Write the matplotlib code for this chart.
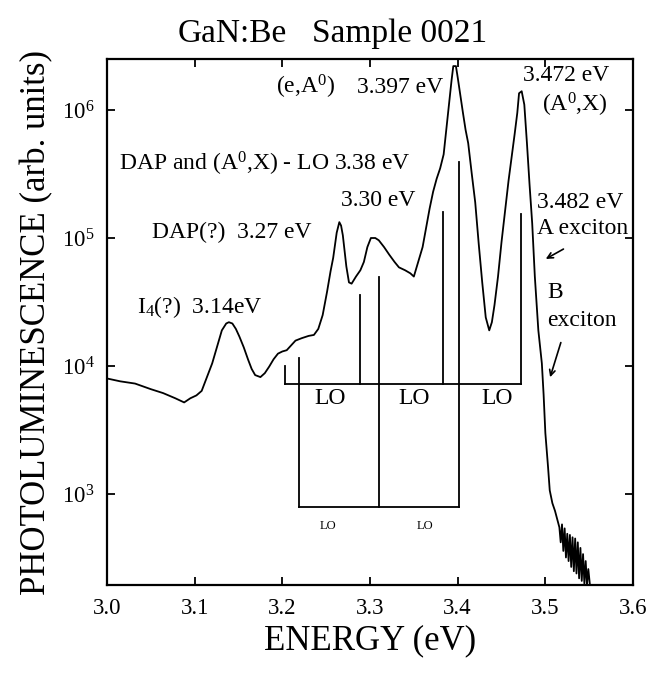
import matplotlib
matplotlib.use("Agg")
import matplotlib.pyplot as plt
from matplotlib.ticker import LogLocator, LogFormatterMathtext, NullLocator, MultipleLocator

plt.rc('font', family='Liberation Serif')
plt.rcParams['mathtext.fontset'] = 'custom'
plt.rcParams['mathtext.rm'] = 'Liberation Serif'
plt.rcParams['mathtext.it'] = 'Liberation Serif:italic'

# PL spectrum (eV, arb. units)
energy = [3.000, 3.015, 3.032, 3.050, 3.064, 3.078, 3.088, 3.095, 3.102, 3.108,
          3.114, 3.120, 3.126, 3.131, 3.136, 3.139, 3.143, 3.147, 3.151, 3.156,
          3.161, 3.165, 3.169, 3.175, 3.180, 3.185, 3.190, 3.195, 3.200, 3.205,
          3.210, 3.215, 3.222, 3.230, 3.236, 3.241, 3.246, 3.251, 3.255, 3.258,
          3.262, 3.265, 3.267, 3.269, 3.271, 3.273, 3.276, 3.279, 3.284, 3.289,
          3.293, 3.297, 3.301, 3.306, 3.310, 3.316, 3.322, 3.328, 3.333, 3.340,
          3.346, 3.350, 3.355, 3.360, 3.364, 3.368, 3.372, 3.376, 3.380, 3.384,
          3.387, 3.390, 3.393, 3.395, 3.398, 3.400, 3.403, 3.406, 3.409, 3.412,
          3.416, 3.420, 3.424, 3.428, 3.432, 3.436, 3.439, 3.442, 3.446, 3.450,
          3.454, 3.458, 3.462, 3.465, 3.468, 3.470, 3.473, 3.476, 3.479, 3.482,
          3.485, 3.488, 3.492, 3.496, 3.498, 3.500, 3.503, 3.505, 3.508, 3.511,
          3.5135, 3.516, 3.5175, 3.519, 3.5205, 3.522, 3.5235, 3.525, 3.5265, 3.528,
          3.5295, 3.531, 3.5325, 3.534, 3.5355, 3.537, 3.5385, 3.540, 3.5415, 3.543,
          3.5445, 3.546, 3.5475, 3.549, 3.551]
intensity = [8.0e3, 7.6e3, 7.3e3, 6.6e3, 6.15e3, 5.6e3, 5.2e3, 5.6e3, 5.9e3, 6.4e3,
             8.2e3, 1.05e4, 1.45e4, 1.9e4, 2.15e4, 2.2e4, 2.15e4, 1.95e4, 1.7e4, 1.4e4,
             1.12e4, 9.5e3, 8.5e3, 8.2e3, 8.8e3, 9.9e3, 1.13e4, 1.25e4, 1.3e4, 1.33e4,
             1.45e4, 1.58e4, 1.65e4, 1.72e4, 1.75e4, 1.95e4, 2.5e4, 3.8e4, 5.5e4, 7.0e4,
             1.1e5, 1.33e5, 1.25e5, 1.05e5, 8.0e4, 6.0e4, 4.5e4, 4.4e4, 5.0e4, 5.6e4,
             6.5e4, 8.5e4, 1.0e5, 1.0e5, 9.6e4, 8.5e4, 7.4e4, 6.5e4, 5.9e4, 5.6e4,
             5.3e4, 5.0e4, 6.5e4, 8.5e4, 1.2e5, 1.7e5, 2.3e5, 2.9e5, 3.5e5, 4.5e5,
             7.0e5, 1.1e6, 1.7e6, 2.2e6, 2.2e6, 1.8e6, 1.3e6, 9.5e5, 7.0e5, 5.5e5,
             3.2e5, 1.9e5, 9.0e4, 4.5e4, 2.4e4, 1.9e4, 2.2e4, 3.0e4, 5.0e4, 9.3e4,
             1.6e5, 2.8e5, 4.5e5, 6.5e5, 9.5e5, 1.35e6, 1.4e6, 1.1e6, 5.5e5, 2.6e5,
             1.3e5, 5.0e4, 1.9e4, 1.05e4, 6.0e3, 3.0e3, 1.65e3, 1.07e3, 8.5e2, 7.4e2,
             6.4e2, 5.5e2, 4.2e2, 5.8e2, 3.6e2, 5.4e2, 3.2e2, 4.9e2, 3.0e2, 4.8e2,
             2.7e2, 4.6e2, 2.5e2, 4.5e2, 2.4e2, 4.2e2, 2.2e2, 3.8e2, 2.1e2, 3.4e2,
             2.0e2, 3.0e2, 1.95e2, 2.6e2, 1.9e2]

# LO phonon replica brackets
lo_upper_x = [3.203, 3.289, 3.383, 3.472]
lo_upper_top = [1.0e4, 3.6e4, 1.6e5, 1.55e5]
lo_upper_base = 7.2e3
lo_lower_x = [3.219, 3.310, 3.402]
lo_lower_top = [1.15e4, 5.0e4, 3.9e5]
lo_lower_base = 800

fig = plt.figure(figsize=(6.52, 6.75), dpi=100)
ax = fig.add_axes([0.1641, 0.1333, 0.8068, 0.7793])

ax.plot(energy, intensity, color='black', lw=1.3)

for x, top in zip(lo_upper_x, lo_upper_top):
    ax.plot([x, x], [lo_upper_base, top], color='black', lw=1.3)
ax.plot([lo_upper_x[0], lo_upper_x[-1]], [lo_upper_base, lo_upper_base], color='black', lw=1.3)
for x, top in zip(lo_lower_x, lo_lower_top):
    ax.plot([x, x], [lo_lower_base, top], color='black', lw=1.3)
ax.plot([lo_lower_x[0], lo_lower_x[-1]], [lo_lower_base, lo_lower_base], color='black', lw=1.3)

# LO labels
for x in [3.254, 3.350, 3.445]:
    ax.text(x, 5.6e3, 'LO', fontsize=17, ha='center', va='center')
for x in [3.252, 3.363]:
    ax.text(x, 560, 'LO', fontsize=9, ha='center', va='center')

# peak annotations
fs = 17
ax.text(3.193, 1.5e6, r'(e,A$^0$)', fontsize=fs, ha='left', va='center')
ax.text(3.285, 1.5e6, '3.397 eV', fontsize=fs, ha='left', va='center')
ax.text(3.474, 1.85e6, '3.472 eV', fontsize=fs, ha='left', va='center')
ax.text(3.496, 1.1e6, r'(A$^0$,X)', fontsize=fs, ha='left', va='center')
ax.text(3.014, 3.8e5, r'DAP and (A$^0$,X) - LO 3.38 eV', fontsize=fs, ha='left', va='center')
ax.text(3.267, 1.98e5, '3.30 eV', fontsize=fs, ha='left', va='center')
ax.text(3.051, 1.1e5, 'DAP(?)  3.27 eV', fontsize=fs, ha='left', va='center')
ax.text(3.034, 2.9e4, r'I$_4$(?)  3.14eV', fontsize=fs, ha='left', va='center')
ax.text(3.4905, 1.9e5, '3.482 eV', fontsize=fs, ha='left', va='center')
ax.text(3.4905, 1.19e5, 'A exciton', fontsize=fs, ha='left', va='center')
ax.text(3.5025, 3.76e4, 'B', fontsize=fs, ha='left', va='center')
ax.text(3.5025, 2.27e4, 'exciton', fontsize=fs, ha='left', va='center')
ax.annotate('', xy=(3.4977, 6.7e4), xytext=(3.5234, 8.4e4),
            arrowprops=dict(arrowstyle='->', lw=1.2, color='black'))
ax.annotate('', xy=(3.5045, 7.8e3), xytext=(3.5186, 1.6e4),
            arrowprops=dict(arrowstyle='->', lw=1.2, color='black'))

ax.set_yscale('log')
ax.set_xlim(3.0, 3.6)
ax.set_ylim(195, 2.5e6)
ax.xaxis.set_major_locator(MultipleLocator(0.1))
ax.xaxis.set_major_formatter(plt.FormatStrFormatter('%.1f'))
ax.yaxis.set_major_locator(LogLocator(base=10))
ax.yaxis.set_major_formatter(LogFormatterMathtext())
ax.yaxis.set_minor_locator(NullLocator())
ax.tick_params(direction='in', top=True, right=True, length=6, width=1.3,
               labelsize=16.5, pad=9)
for s in ax.spines.values():
    s.set_linewidth(1.6)

ax.set_xlabel('ENERGY (eV)', fontsize=25, labelpad=4)
ax.set_ylabel('PHOTOLUMINESCENCE (arb. units)', fontsize=25, labelpad=6)
fig.text(0.273, 0.950, 'GaN:Be', fontsize=24, ha='left', va='center')
fig.text(0.478, 0.950, 'Sample 0021', fontsize=24, ha='left', va='center')

fig.savefig('out.png', dpi=100)
